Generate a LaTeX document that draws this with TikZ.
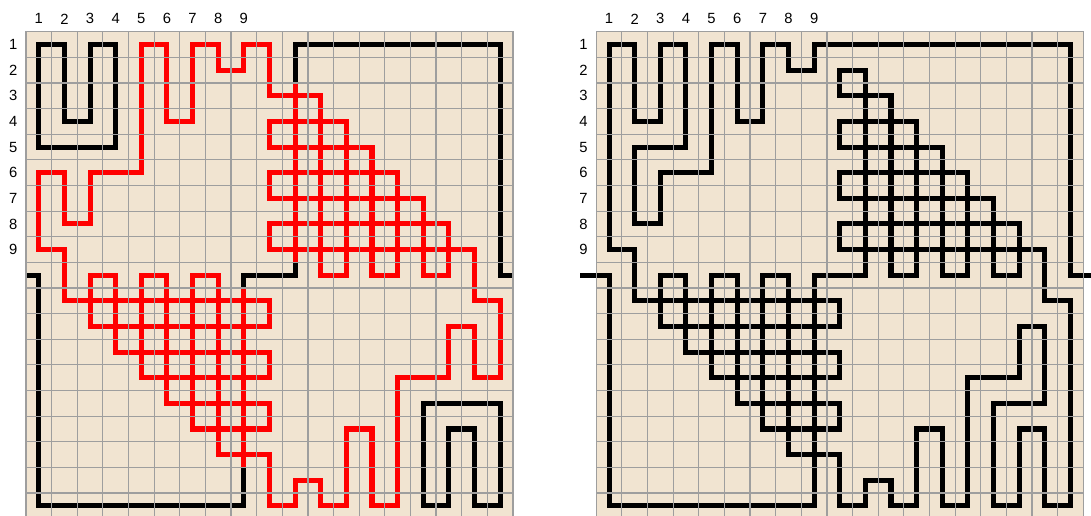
\documentclass[tikz,border=0pt]{standalone}
\usepackage{fontspec}
\setmainfont{Liberation Sans}

\definecolor{boardtan}{RGB}{241,228,209}
\definecolor{gridgray}{RGB}{158,158,158}

\tikzset{
  strand/.style={line width=2.8pt, line join=miter, line cap=rect},
  gridline/.style={gridgray, line width=0.65pt, line cap=rect},
  idx/.style={font=\fontsize{8.2}{10}\selectfont, inner sep=0pt},
}

% board background, and grid + index labels drawn over the strands
\newcommand{\boardback}{\fill[boardtan] (0.5,0.5) rectangle (19.5,19.5);}
\newcommand{\boardgrid}[1]{%
  \foreach \k in {0,...,19} {
    \draw[gridline] (\k+0.5,0.5) -- (\k+0.5,19.5);
    \draw[gridline] (0.5,\k+0.5) -- (19.5,\k+0.5);
  }
  \foreach \n in {1,...,9} {
    \node[idx] (#1col\n) at (\n,0) {\n};
    \node[idx] (#1row\n) at (0,\n) {\n};
  }%
}

\begin{document}
\begin{tikzpicture}[x=0.5cm, y=-0.5cm]
  \useasboundingbox (-0.514,-0.737) rectangle (42.053,19.357);

  % Left board - red loop over the black strands
  \begin{scope}
    \boardback
    \draw[strand] (1,1) -- (2,1) -- (2,4) -- (3,4) -- (3,1) -- (4,1) -- (4,5) -- (1,5) -- cycle;
    \draw[strand, line cap=butt] (0.5,10) -- (1,10) -- (1,19) -- (9,19) -- (9,17.5);
    \draw[strand] (9,10.5) -- (9,10) -- (11,10) -- (11,9.5);
    \draw[strand, line cap=butt] (11,2.5) -- (11,1) -- (19,1) -- (19,10) -- (19.5,10);
    \draw[strand] (16,15) -- (19,15) -- (19,19) -- (18,19) -- (18,16) -- (17,16) -- (17,19) -- (16,19) -- cycle;

    \draw[strand, red] (2,11) -- (2,9) -- (1,9) -- (1,6) -- (2,6) -- (2,8) -- (3,8) -- (3,6) -- (5,6)
      -- (5,1) -- (6,1) -- (6,4) -- (7,4) -- (7,1) -- (8,1) -- (8,2) -- (9,2) -- (9,1) -- (10,1) -- (10,3)
      -- (12,3) -- (12,10) -- (13,10) -- (13,4) -- (10,4) -- (10,5) -- (14,5) -- (14,10) -- (15,10)
      -- (15,6) -- (10,6) -- (10,7) -- (16,7) -- (16,10) -- (17,10) -- (17,8) -- (10,8) -- (10,9) -- (18,9)
      -- (18,11) -- (19,11) -- (19,14) -- (18,14) -- (18,12) -- (17,12) -- (17,14) -- (15,14) -- (15,19)
      -- (14,19) -- (14,16) -- (13,16) -- (13,19) -- (12,19) -- (12,18) -- (11,18) -- (11,19) -- (10,19)
      -- (10,17) -- (8,17) -- (8,10) -- (7,10) -- (7,16) -- (10,16) -- (10,15) -- (6,15) -- (6,10)
      -- (5,10) -- (5,14) -- (10,14) -- (10,13) -- (4,13) -- (4,10) -- (3,10) -- (3,12) -- (10,12)
      -- (10,11) -- cycle;
    \draw[strand, red, line cap=butt] (11,2.5) -- (11,9.5);
    \draw[strand, red, line cap=butt] (9,10.5) -- (9,17.5);

    \boardgrid{L}
  \end{scope}

  % Right board - one black strand
  \begin{scope}[shift={(22.25,0)}]
    \boardback
    \draw[strand, line cap=butt] (-0.12,10) -- (1,10) -- (1,19) -- (9,19) -- (9,10) -- (11,10) -- (11,2)
      -- (10,2) -- (10,3)
      -- (12,3) -- (12,10) -- (13,10) -- (13,4) -- (10,4) -- (10,5) -- (14,5) -- (14,10) -- (15,10)
      -- (15,6) -- (10,6) -- (10,7) -- (16,7) -- (16,10) -- (17,10) -- (17,8) -- (10,8) -- (10,9) -- (18,9)
      -- (18,11) -- (19,11) -- (19,19) -- (18,19) -- (18,16) -- (17,16) -- (17,19) -- (16,19) -- (16,15)
      -- (18,15) -- (18,12) -- (17,12) -- (17,14) -- (15,14) -- (15,19)
      -- (14,19) -- (14,16) -- (13,16) -- (13,19) -- (12,19) -- (12,18) -- (11,18) -- (11,19) -- (10,19)
      -- (10,17) -- (8,17) -- (8,10) -- (7,10) -- (7,16) -- (10,16) -- (10,15) -- (6,15) -- (6,10)
      -- (5,10) -- (5,14) -- (10,14) -- (10,13) -- (4,13) -- (4,10) -- (3,10) -- (3,12) -- (10,12)
      -- (10,11) -- (2,11) -- (2,9) -- (1,9) -- (1,1) -- (2,1) -- (2,4) -- (3,4) -- (3,1) -- (4,1)
      -- (4,5) -- (2,5) -- (2,8) -- (3,8) -- (3,6) -- (5,6) -- (5,1) -- (6,1) -- (6,4) -- (7,4) -- (7,1)
      -- (8,1) -- (8,2) -- (9,2) -- (9,1) -- (19,1) -- (19,10) -- (19.85,10);

    \boardgrid{R}
  \end{scope}
\end{tikzpicture}
\end{document}
